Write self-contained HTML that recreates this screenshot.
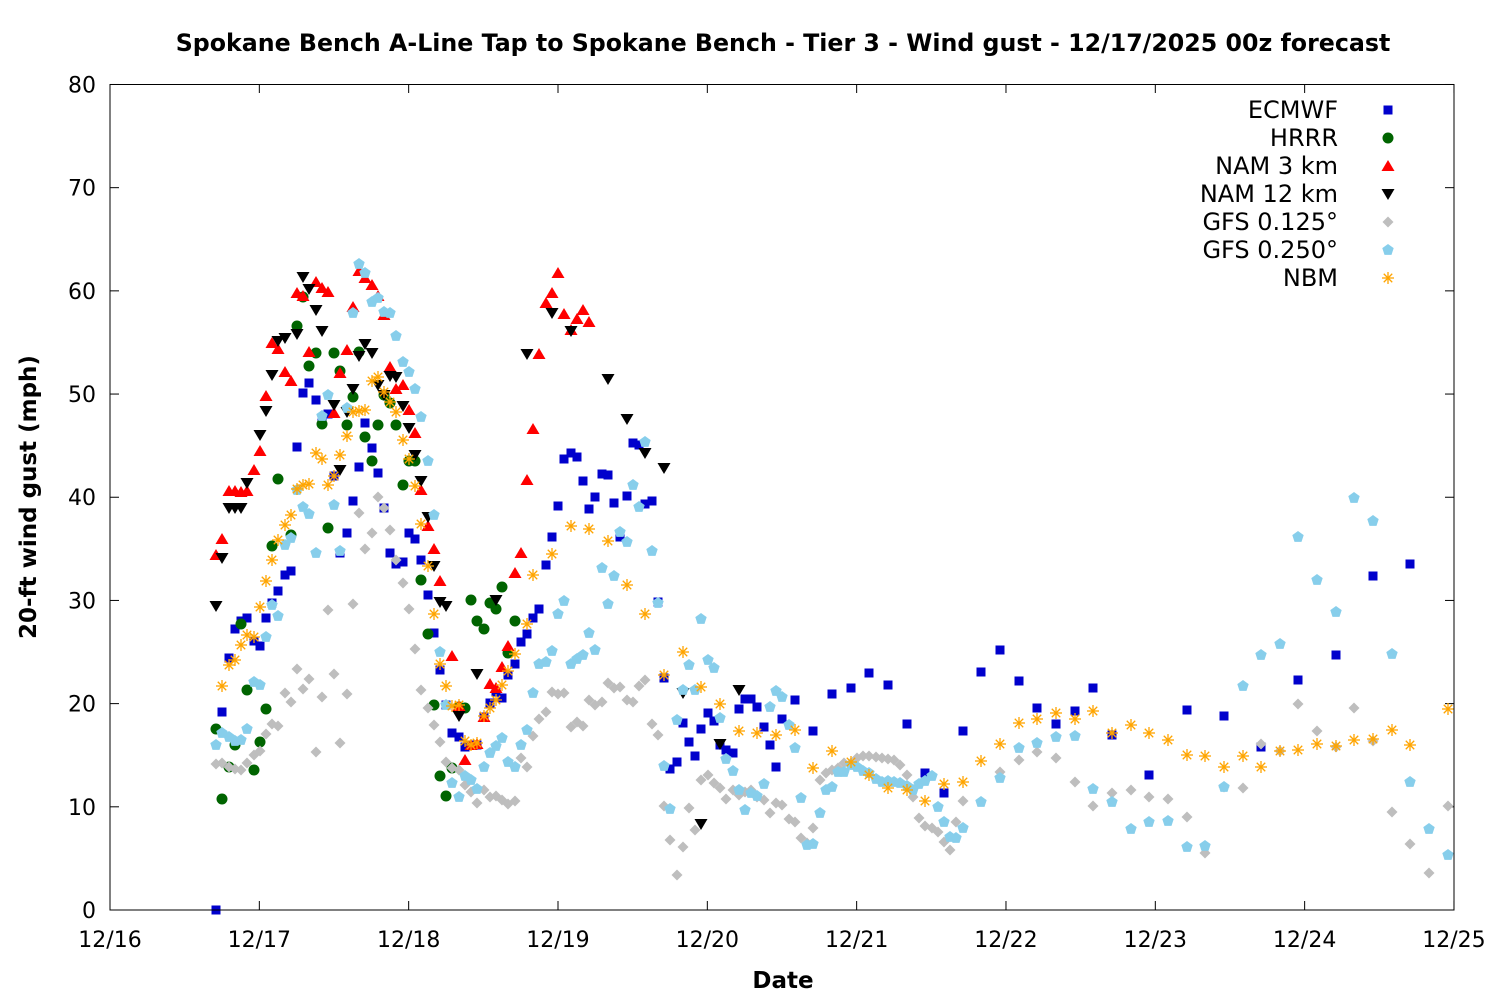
<!DOCTYPE html>
<html><head><meta charset="utf-8"><style>
html,body{margin:0;padding:0;background:#fff;}
svg text{font-family:"DejaVu Sans","Liberation Sans",sans-serif;}
</style></head><body>
<svg id="s" width="1500" height="1000" xmlns="http://www.w3.org/2000/svg">
<rect width="1500" height="1000" fill="#fff"/>
<text x="783" y="51" text-anchor="middle" font-size="23.7" font-weight="bold">Spokane Bench A-Line Tap to Spokane Bench - Tier 3 - Wind gust - 12/17/2025 00z forecast</text>
<text x="783" y="988" text-anchor="middle" font-size="23" font-weight="bold">Date</text>
<text transform="translate(36,497) rotate(-90)" text-anchor="middle" font-size="23" font-weight="bold">20-ft wind gust (mph)</text>
<g id="ax"></g>
<g id="pts"></g>
<g id="leg" font-size="24"></g>
<rect x="110" y="84.5" width="1344" height="825.5" fill="none" stroke="#000" stroke-width="1"/>
</svg>
<script>
const NS="http://www.w3.org/2000/svg";
function el(t,a,p){const e=document.createElementNS(NS,t);for(const k in a)e.setAttribute(k,a[k]);(p||document.getElementById('pts')).appendChild(e);return e;}
const ax=document.getElementById('ax');
for(let i=0;i<=8;i++){const y=910-i*103.19;
el('line',{x1:110,x2:119,y1:y,y2:y,stroke:'#000'},ax);el('line',{x1:1445,x2:1454,y1:y,y2:y,stroke:'#000'},ax);
const t=el('text',{x:96,y:y+8,'text-anchor':'end','font-size':22},ax);t.textContent=i*10;}
const dl=['12/16','12/17','12/18','12/19','12/20','12/21','12/22','12/23','12/24','12/25'];
for(let i=0;i<=9;i++){const x=110+i*149.33;
el('line',{x1:x,x2:x,y1:910,y2:901,stroke:'#000'},ax);el('line',{x1:x,x2:x,y1:84,y2:93,stroke:'#000'},ax);
const t=el('text',{x:x,y:947,'text-anchor':'middle','font-size':22},ax);t.textContent=dl[i];}
function P(s){const a=s.split(',').map(Number);const r=[];for(let i=0;i<a.length;i+=2)r.push([a[i],a[i+1]]);return r;}
const sym={
sq:(x,y,g)=>el('rect',{x:x-4.5,y:y-4.5,width:9,height:9,fill:'#0000cc'},g),
ci:(x,y,g)=>el('circle',{cx:x,cy:y,r:5.5,fill:'#006400'},g),
tu:(x,y,g)=>el('polygon',{points:`${x},${y-6} ${x+6.5},${y+5} ${x-6.5},${y+5}`,fill:'#ff0000'},g),
td:(x,y,g)=>el('polygon',{points:`${x},${y+6} ${x+6.5},${y-5} ${x-6.5},${y-5}`,fill:'#000'},g),
di:(x,y,g)=>el('polygon',{points:`${x},${y-5.5} ${x+5.5},${y} ${x},${y+5.5} ${x-5.5},${y}`,fill:'#bebebe'},g),
pe:(x,y,g)=>{let p=[];for(let k=0;k<5;k++){const a=-Math.PI/2+k*2*Math.PI/5;p.push((x+6*Math.cos(a)).toFixed(1)+','+(y+6*Math.sin(a)).toFixed(1));}el('polygon',{points:p.join(' '),fill:'#87ceeb'},g);},
as:(x,y,g)=>{for(let k=0;k<4;k++){const a=k*Math.PI/4,c=6*Math.cos(a),s=6*Math.sin(a);el('line',{x1:x-c,y1:y-s,x2:x+c,y2:y+s,stroke:'#ffa500','stroke-width':1.3},g);}}
};
const D={
sq:"216,910,222,712,229,658,235,629,241,621,247,618,254,641,260,646,266,618,272,603,278,591,285,575,291,571,297,447,303,393,309,383,316,400,322,423,328,414,334,476,340,553,347,533,353,501,359,467,365,423,372,448,378,473,384,508,390,553,396,564,403,562,409,533,415,539,421,560,428,595,434,633,440,670,446,705,452,733,459,737,465,747,471,745,477,745,484,717,490,703,496,692,502,698,508,675,515,664,521,642,527,634,533,618,539,609,546,565,552,537,558,506,564,459,571,453,577,457,583,481,589,509,595,497,602,474,608,475,614,503,620,537,627,496,633,443,639,445,645,504,652,501,658,602,664,678,670,769,677,762,683,723,689,742,695,756,701,729,708,713,714,721,720,745,726,750,733,753,739,709,745,699,751,699,757,707,764,727,770,745,776,767,782,719,795,700,813,731,832,694,851,688,869,673,888,685,907,724,925,773,944,793,963,731,981,672,1000,650,1019,681,1037,708,1056,724,1075,711,1093,688,1112,735,1149,775,1187,710,1224,716,1261,747,1298,680,1336,655,1373,576,1410,564",
ci:"216,729,222,799,229,767,235,745,241,624,247,690,254,770,260,742,266,709,272,546,278,479,291,535,297,326,303,297,309,366,316,353,322,424,328,528,334,353,340,371,347,425,353,397,359,352,365,437,372,461,378,425,384,395,390,403,396,425,403,485,409,461,415,461,421,580,428,634,434,705,440,776,446,796,452,768,459,707,465,708,471,600,477,621,484,629,490,603,496,609,502,587,508,653,515,621",
tu:"216,555,222,539,229,491,235,491,241,492,247,491,254,470,260,451,266,396,272,343,278,349,285,372,291,381,297,293,303,296,309,352,316,282,322,288,328,292,334,413,340,373,347,350,353,307,359,271,365,278,372,285,378,296,384,315,390,367,396,389,403,385,409,410,415,433,421,490,428,526,434,549,440,581,452,656,459,706,465,760,471,745,477,744,484,717,490,684,496,688,502,667,508,646,515,573,521,553,527,480,533,429,539,354,546,303,552,293,558,273,564,314,571,330,577,319,583,310,589,322",
td:"216,606,222,558,229,508,235,508,241,508,247,483,260,435,266,411,272,375,278,341,285,338,297,334,303,277,309,289,316,310,322,331,334,405,340,470,347,412,353,389,359,356,365,344,372,353,378,385,384,395,390,376,396,377,403,406,409,428,415,455,421,481,428,517,434,566,440,602,446,606,459,716,477,674,496,600,527,354,552,313,571,331,608,379,627,419,645,453,664,468,683,693,701,824,720,744,739,690",
di:"216,764,222,763,229,767,235,769,241,770,247,763,254,755,260,751,266,734,272,724,278,726,285,693,291,702,297,669,303,689,309,679,316,752,322,697,328,610,334,674,340,743,347,694,353,604,359,513,365,549,372,533,378,497,384,508,390,530,396,560,403,583,409,609,415,649,421,690,428,708,434,725,440,742,446,762,452,768,459,770,465,785,471,792,477,803,484,790,490,797,496,796,502,800,508,804,515,801,521,758,527,767,533,736,539,719,546,712,552,692,558,694,564,693,571,727,577,722,583,726,589,700,595,705,602,702,608,683,614,688,620,687,627,700,633,702,639,686,645,680,652,724,658,735,664,806,670,840,677,875,683,847,689,808,695,830,701,780,708,775,714,783,720,788,726,799,733,790,739,795,745,792,751,790,757,797,764,800,770,813,776,803,782,805,789,819,795,822,801,838,807,843,813,828,820,780,826,773,832,770,838,768,844,763,851,763,857,758,863,756,869,756,876,757,882,758,888,759,894,760,900,765,907,775,913,797,919,818,925,826,932,828,938,832,944,842,950,850,956,822,963,801,1000,772,1019,760,1037,752,1056,758,1075,782,1093,806,1112,793,1131,790,1149,797,1168,799,1187,817,1205,853,1224,787,1243,788,1261,744,1280,751,1298,704,1317,731,1336,747,1354,708,1373,741,1392,812,1410,844,1429,873,1448,806",
pe:"216,745,222,733,229,737,235,741,241,740,247,729,254,682,260,685,266,637,272,605,278,616,285,545,291,538,297,490,303,507,309,514,316,553,322,416,328,395,334,505,340,551,347,408,353,313,359,264,365,273,372,302,378,298,384,312,390,313,396,336,403,362,409,372,415,389,421,417,428,461,434,515,440,652,446,705,452,783,459,797,465,776,471,780,477,789,484,767,490,753,496,746,502,738,508,762,515,767,521,745,527,730,533,693,539,664,546,662,552,651,558,614,564,601,571,664,577,659,583,655,589,633,595,650,602,568,608,604,614,576,620,532,627,542,633,485,639,507,645,442,652,551,658,603,664,766,670,809,677,720,683,690,689,665,695,690,701,619,708,660,714,668,720,718,726,759,733,771,739,790,745,810,751,793,757,796,764,784,770,707,776,691,782,697,789,725,795,748,801,798,807,845,813,844,820,813,826,790,832,787,838,772,844,772,851,765,857,767,863,771,869,773,876,779,882,782,888,781,894,782,900,783,907,786,913,790,919,784,925,781,932,776,938,807,944,822,950,837,956,838,963,828,981,802,1000,778,1019,748,1037,743,1056,737,1075,736,1093,789,1112,802,1131,829,1149,822,1168,821,1187,847,1205,846,1224,787,1243,686,1261,655,1280,644,1298,537,1317,580,1336,612,1354,498,1373,521,1392,654,1410,782,1429,829,1448,855",
as:"222,686,229,665,235,660,241,645,247,635,254,637,260,607,266,581,272,560,278,540,285,525,291,515,297,489,303,485,309,484,316,453,322,459,328,485,334,476,340,455,347,436,353,412,359,411,365,410,372,381,378,377,384,392,390,402,396,412,403,440,409,459,415,486,421,524,428,566,434,614,440,664,446,686,452,706,459,705,465,741,471,745,477,743,484,716,490,708,496,700,502,685,508,671,515,654,527,624,533,575,552,554,571,526,589,529,608,541,627,585,645,614,664,675,683,652,701,687,720,704,739,731,757,733,776,735,795,730,813,768,832,751,851,762,869,775,888,788,907,790,925,801,944,784,963,782,981,761,1000,744,1019,723,1037,719,1056,713,1075,719,1093,711,1112,733,1131,725,1149,733,1168,740,1187,755,1205,756,1224,767,1243,756,1261,767,1280,751,1298,750,1317,744,1336,746,1354,740,1373,739,1392,730,1410,745,1448,709"
};
const order=['sq','ci','tu','td','di','pe','as'];
const g=document.getElementById('pts');
order.forEach(k=>P(D[k]).forEach(p=>sym[k](p[0],p[1],g)));
const names=['ECMWF','HRRR','NAM 3 km','NAM 12 km','GFS 0.125°','GFS 0.250°','NBM'];
const lg=document.getElementById('leg');
names.forEach((n,i)=>{const y=110+i*28;const t=el('text',{x:1338,y:y+8,'text-anchor':'end'},lg);t.textContent=n;sym[order[i]](1388,y,lg);});
</script>
</body></html>
